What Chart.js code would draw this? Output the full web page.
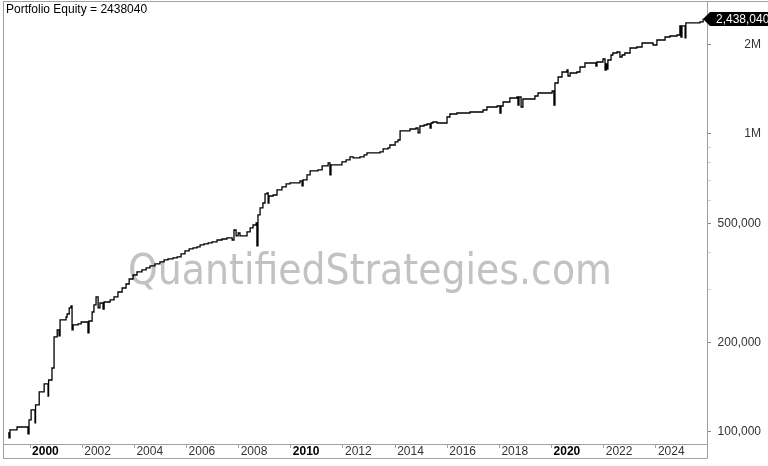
<!DOCTYPE html>
<html>
<head>
<meta charset="utf-8">
<title>Portfolio Equity</title>
<script src="https://cdn.jsdelivr.net/npm/chart.js@4.4.1/dist/chart.umd.min.js"></script>
<style>
  html, body { margin: 0; padding: 0; background: #fff; }
  canvas { display: block; }
</style>
</head>
<body>
<canvas id="chart" width="768" height="466"></canvas>
<script>
'use strict';

// equity curve (decimal years / account value)
const dates = [
  1999.16, 1999.19, 1999.23, 1999.50, 1999.92, 1999.96, 2000.04, 2000.19, 2000.21, 2000.35,
  2000.54, 2000.69, 2000.71, 2000.84, 2000.92, 2001.04, 2001.11, 2001.15, 2001.38, 2001.42,
  2001.50, 2001.57, 2001.61, 2001.65, 2001.84, 2001.96, 2002.22, 2002.26, 2002.38, 2002.45,
  2002.53, 2002.61, 2002.68, 2002.80, 2002.84, 2003.07, 2003.22, 2003.37, 2003.53, 2003.68,
  2003.80, 2003.95, 2004.10, 2004.29, 2004.45, 2004.60, 2004.79, 2004.98, 2005.14, 2005.29,
  2005.48, 2005.64, 2005.79, 2005.94, 2006.10, 2006.25, 2006.40, 2006.52, 2006.67, 2006.83,
  2006.98, 2007.17, 2007.36, 2007.55, 2007.75, 2007.82, 2007.90, 2007.98, 2008.05, 2008.32,
  2008.44, 2008.55, 2008.67, 2008.70, 2008.74, 2008.82, 2008.93, 2009.01, 2009.09, 2009.13,
  2009.16, 2009.32, 2009.47, 2009.66, 2009.82, 2009.97, 2010.35, 2010.43, 2010.47, 2010.62,
  2010.74, 2011.04, 2011.20, 2011.43, 2011.50, 2011.54, 2011.96, 2012.12, 2012.27, 2012.39,
  2012.65, 2012.81, 2012.92, 2013.42, 2013.54, 2013.73, 2013.80, 2014.00, 2014.11, 2014.19,
  2014.57, 2014.80, 2014.88, 2014.95, 2015.11, 2015.22, 2015.34, 2015.38, 2015.45, 2015.61,
  2015.99, 2016.10, 2016.37, 2016.87, 2017.37, 2017.52, 2017.91, 2018.02, 2018.06, 2018.14,
  2018.40, 2018.67, 2018.71, 2018.75, 2018.83, 2018.90, 2019.36, 2019.48, 2020.02, 2020.09,
  2020.13, 2020.25, 2020.40, 2020.59, 2020.63, 2020.71, 2020.97, 2021.09, 2021.28, 2021.70,
  2021.74, 2021.97, 2022.05, 2022.09, 2022.13, 2022.16, 2022.28, 2022.35, 2022.51, 2022.62,
  2022.70, 2022.81, 2023.01, 2023.27, 2023.47, 2023.89, 2024.04, 2024.35, 2024.54, 2024.81,
  2024.92, 2024.96, 2025.00, 2025.12, 2025.15, 2025.69, 2025.81
];
const equity = [
  99200, 95500, 101600, 103900, 98500, 109700, 118500, 107200, 123200, 136200,
  144900, 132000, 149400, 163900, 208400, 219900, 210000, 237600, 243100, 248800,
  260700, 264700, 219900, 228600, 230400, 233900, 214900, 235700, 252700, 266800,
  283800, 260700, 270900, 258600, 273000, 277300, 283800, 294900, 304200, 313700,
  326100, 336300, 344300, 349700, 355100, 360600, 366300, 372000, 377800, 380700,
  383600, 386600, 395700, 405000, 411300, 414500, 417700, 424200, 427500, 430800,
  434100, 440800, 444200, 447700, 440800, 476200, 454700, 465300, 454700, 469000,
  483700, 495000, 502700, 420900, 534800, 564500, 586700, 629000, 633800, 586700,
  619300, 624100, 649000, 664200, 679800, 685000, 695700, 669300, 701100, 728700,
  751500, 757300, 781000, 799400, 728700, 787100, 805600, 818100, 837300, 830900,
  837300, 850300, 863600, 870300, 890600, 897500, 918500, 940100, 954700, 1023500,
  1039400, 1047400, 1007800, 1063800, 1072000, 1080300, 1047400, 1088700, 1097200, 1088700,
  1140300, 1167100, 1176100, 1185300, 1203700, 1231900, 1241500, 1176100, 1241500, 1280500,
  1320600, 1330900, 1251100, 1330900, 1231900, 1310500, 1341000, 1372500, 1393800, 1251100,
  1482700, 1553100, 1614300, 1639300, 1565100, 1601800, 1614300, 1677800, 1730500, 1690700,
  1743900, 1784700, 1639300, 1717200, 1652100, 1771000, 1840900, 1869500, 1883900, 1812600,
  1840900, 1869500, 1943600, 1958700, 2020200, 1989200, 2067600, 2116000, 2132500, 2149000,
  2304300, 2116000, 2304300, 2100300, 2358400, 2376700, 2438040
];

const yearTicks = [2000, 2002, 2004, 2006, 2008, 2010, 2012, 2014, 2016, 2018, 2020, 2022, 2024];
const boldYears = [2000, 2010, 2020];
const yMajor = [100000, 200000, 500000, 1000000, 2000000];
const yMinor = [300000, 400000, 600000, 700000, 800000, 900000];

const FONT = '"Liberation Sans", Arial, sans-serif';
const FRAME = '#a0a0a0';

function fmtValue(v) {
  if (v >= 1000000 && v % 1000000 === 0) return (v / 1000000) + 'M';
  return v.toLocaleString('en-US');
}

const lastValue = equity[equity.length - 1];

const decorPlugin = {
  id: 'decor',
  beforeDatasetsDraw(chart) {
    // watermark behind the curve
    const ctx = chart.ctx;
    const text = 'QuantifiedStrategies.com';
    ctx.save();
    ctx.font = '43px "DejaVu Sans", sans-serif';
    const w = ctx.measureText(text).width;
    ctx.translate(128, 284);
    ctx.scale(484 / w, 1);
    ctx.fillStyle = '#c2c2c2';
    ctx.textBaseline = 'alphabetic';
    ctx.fillText(text, 0, 0);
    ctx.restore();
  },
  afterDraw(chart) {
    const ctx = chart.ctx;
    const area = chart.chartArea;
    ctx.save();
    // frame
    ctx.strokeStyle = FRAME;
    ctx.lineWidth = 1;
    ctx.beginPath();
    ctx.moveTo(3.5, 1); ctx.lineTo(3.5, 458.5);
    ctx.moveTo(3, 1.5); ctx.lineTo(768, 1.5);
    ctx.moveTo(3, 458.5); ctx.lineTo(area.right + 0.5, 458.5);
    ctx.moveTo(area.right + 0.5, 1); ctx.lineTo(area.right + 0.5, 458.5);
    ctx.stroke();

    // title
    ctx.fillStyle = '#000';
    ctx.font = '12px ' + FONT;
    ctx.textBaseline = 'middle';
    ctx.textAlign = 'left';
    ctx.fillText('Portfolio Equity = ' + lastValue, 6, 10);

    // last value marker on the right axis
    const y = Math.round(chart.scales.y.getPixelForValue(lastValue));
    const x0 = area.right + 1;
    ctx.fillStyle = '#000';
    ctx.beginPath();
    ctx.moveTo(x0 - 5, y);
    ctx.lineTo(x0 + 2, y - 7);
    ctx.lineTo(768, y - 7);
    ctx.lineTo(768, y + 7);
    ctx.lineTo(x0 + 2, y + 7);
    ctx.closePath();
    ctx.fill();
    ctx.fillStyle = '#fff';
    ctx.fillText(fmtValue(lastValue), x0 + 8, y + 1);
    ctx.restore();
  }
};

new Chart(document.getElementById('chart'), {
  type: 'line',
  data: {
    datasets: [{
      data: dates.map((d, i) => ({ x: d, y: equity[i] })),
      borderColor: '#000',
      borderWidth: 1.3,
      pointRadius: 0,
      stepped: true,
      fill: false
    }]
  },
  options: {
    animation: false,
    responsive: false,
    devicePixelRatio: 1,
    layout: { padding: { left: 4, top: 2, right: 7, bottom: 8 } },
    plugins: { legend: { display: false }, tooltip: { enabled: false } },
    scales: {
      x: {
        type: 'linear',
        min: 1999.0,
        max: 2025.96,
        afterBuildTicks: s => { s.ticks = yearTicks.map(v => ({ value: v })); },
        afterFit: s => { s.height = 14; s.paddingLeft = 0; s.paddingRight = 0; },
        border: { color: FRAME },
        grid: { drawOnChartArea: false, tickLength: 4, color: FRAME },
        ticks: {
          autoSkip: false,
          maxRotation: 0,
          align: 'start',
          labelOffset: 2,
          padding: -4,
          color: c => boldYears.includes(c.tick && c.tick.value) ? '#000' : '#333',
          font: c => ({ family: FONT, size: 12, weight: boldYears.includes(c.tick && c.tick.value) ? 'bold' : 'normal' }),
          callback: v => String(v)
        }
      },
      y: {
        type: 'logarithmic',
        position: 'right',
        min: 91100,
        max: 2773000,
        afterBuildTicks: s => {
          s.ticks = yMajor.concat(yMinor).sort((a, b) => a - b).map(v => ({ value: v }));
        },
        afterFit: s => { s.width = 54; s.paddingTop = 0; s.paddingBottom = 0; },
        border: { color: FRAME },
        grid: {
          drawOnChartArea: false,
          tickLength: 4,
          color: c => yMajor.includes(c.tick && c.tick.value) ? '#888' : '#cfcfcf'
        },
        ticks: {
          autoSkip: false,
          crossAlign: 'far',
          padding: 1,
          color: '#333',
          font: { family: FONT, size: 12 },
          callback: v => yMajor.includes(v) ? fmtValue(v) : ''
        }
      }
    }
  },
  plugins: [decorPlugin]
});
</script>
</body>
</html>
